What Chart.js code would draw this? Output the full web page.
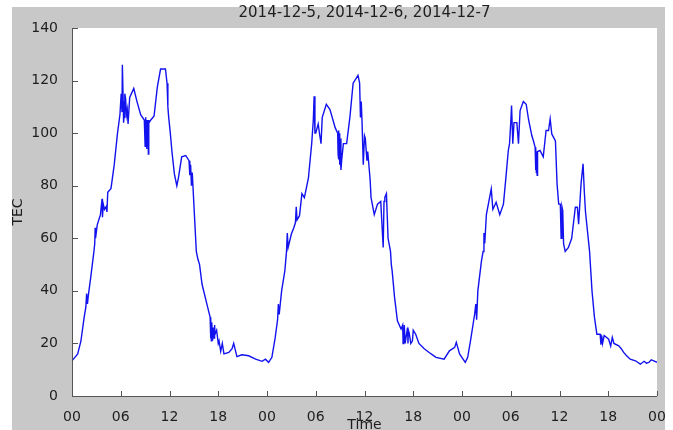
<!DOCTYPE html>
<html>
<head>
<meta charset="utf-8">
<title>TEC 2014-12-5 .. 2014-12-7</title>
<script src="https://cdn.jsdelivr.net/npm/chart.js@4.4.1/dist/chart.umd.min.js"></script>
<style>
  html, body { margin: 0; padding: 0; background: #fff; }
  #wrap { position: relative; width: 673px; height: 430px; }
</style>
</head>
<body>
<div id="wrap"><canvas id="chart-tec"></canvas></div>
<script>
// hours since 2014-12-5 00:00 and TEC (one line per stretch, same counts)
const hours = [
  0.0, 0.3, 0.7, 1.1, 1.5, 1.7, 1.8, 1.9, 2.0, 2.3, 2.7, 2.8, 2.85, 2.9, 3.1, 3.5, 3.7, 3.75, 3.85, 4.0, 4.2, 4.3, 4.4,
  4.8, 5.2, 5.6, 5.9, 6.05, 6.15, 6.2, 6.3, 6.35, 6.4, 6.5, 6.6, 6.7, 6.8, 6.9, 7.1, 7.6, 8.0, 8.45, 8.9,
  9.0, 9.05, 9.1, 9.15, 9.2, 9.25, 9.3, 9.35, 9.4, 9.45, 9.5, 9.7,
  10.1, 10.5, 10.9, 11.5, 11.7, 11.8, 11.9, 12.1, 12.3, 12.6, 12.9, 13.1, 13.5, 14.0, 14.4,
  14.5, 14.6, 14.7, 14.8, 15.0, 15.3, 15.5, 15.7, 16.0, 16.4, 16.8,
  17.0, 17.05, 17.1, 17.15, 17.2, 17.3, 17.4, 17.5, 17.55, 17.6, 17.8, 18.0, 18.1, 18.3, 18.5, 18.7,
  19.3, 19.7, 19.9, 20.3, 20.9, 21.75, 22.6, 23.4, 23.8, 24.2, 24.6, 25.0,
  25.3, 25.4, 25.5, 25.8, 26.2, 26.4, 26.5, 26.6, 27.0, 27.3, 27.5, 27.6, 27.7, 28.0, 28.3, 28.6, 29.1,
  29.5, 29.7, 29.8, 29.9, 30.0, 30.3, 30.5, 30.65, 30.8, 31.3, 31.75, 32.4,
  32.7, 32.75, 32.8, 32.85, 32.9, 32.95, 33.0, 33.1, 33.2,
  33.4, 33.8, 34.2, 34.6, 35.2, 35.4, 35.5, 35.6, 35.7, 35.85, 36.0, 36.1, 36.3, 36.4, 36.7, 36.8,
  37.2, 37.6, 38.0, 38.3, 38.4, 38.5, 38.7, 38.9, 39.2, 39.3, 39.4, 39.7, 40.05, 40.5,
  40.7, 40.75, 40.8, 40.85, 40.9, 41.0, 41.3, 41.35, 41.4, 41.5, 41.7, 41.9, 42.0, 42.3, 42.7,
  43.35, 44.2, 44.8, 45.8, 46.45, 47.1, 47.3, 47.7, 48.4, 48.7, 49.1,
  49.55, 49.7, 49.8, 49.95, 50.4, 50.6, 50.7, 50.8, 51.0, 51.4, 51.6, 51.8, 51.95, 52.2, 52.65, 53.1, 53.4, 53.7,
  53.85, 54.0, 54.1, 54.25, 54.4, 54.75, 54.95, 55.15, 55.55, 55.9, 56.2, 56.6, 56.8,
  57.0, 57.05, 57.1, 57.15, 57.2, 57.25, 57.3, 57.6, 58.0, 58.35, 58.65, 58.85, 59.05, 59.5,
  59.7, 59.9, 60.1, 60.2, 60.3, 60.4, 60.5, 60.7, 61.1, 61.5, 61.95, 62.2, 62.35, 62.65, 62.9, 63.05,
  63.2, 63.4, 63.7, 64.0, 64.3, 64.6, 65.0, 65.1, 65.2, 65.3, 65.5, 66.05, 66.3, 66.5, 66.7, 67.3,
  67.6, 67.9, 68.2, 68.7, 69.35, 69.95, 70.4, 70.7, 71.0, 71.3, 71.6, 72.0
]
const tec = [
  13.4, 14.5, 16, 21, 30, 33.7, 39, 35, 38, 45, 55, 58, 64, 60, 65, 69, 75, 68, 73, 71, 72, 70, 77.5,
  79, 88, 100, 107, 115, 108, 126, 112, 104, 106, 115, 113, 107, 109, 103.5, 113.6, 117, 112, 107, 105,
  95, 106, 96, 105, 94, 105, 97, 104, 92, 105, 104, 105,
  106.5, 117.5, 124.4, 124.4, 119, 110, 106, 100, 93, 84.5, 80, 83, 91, 91.5, 89.5,
  84, 88, 80, 85, 73, 55, 52, 50, 42.6, 37.5, 32.5,
  30, 22, 29, 21, 28, 21, 26, 22, 27, 23.5, 25, 20, 21, 17, 20, 16,
  16.6, 18, 20, 15, 15.7, 15.3, 14, 13.2, 14, 12.8, 14.7, 22,
  29, 35, 31, 40, 47.7, 55, 62, 56.5, 61.6, 64, 66, 72, 67, 68.6, 77, 75.5, 83,
  96, 105, 114, 100, 100, 103.5, 99, 96, 106, 111, 109, 102,
  100, 92, 101, 90, 100, 88, 98, 86, 90,
  96, 96, 106, 119, 122, 119, 106, 112, 104, 88, 99, 98, 89.5, 93, 82, 75.6,
  69, 73, 74, 56.5, 74, 75.6, 77, 60, 55, 50, 47.7, 37.5, 28.6, 25.5,
  27, 20, 26, 20, 27, 20, 26, 20, 25, 24, 20, 21, 25, 23.5, 20,
  18, 16, 14.7, 14, 17.2, 18.5, 20.4, 16, 12.8, 14.7, 22,
  31, 35, 29, 40, 51.5, 55, 62, 58, 69, 75.6, 78.8, 71, 72, 73.7, 69, 73, 83, 93.4,
  96, 104, 110.5, 96, 104, 104, 96, 108.6, 112, 111, 105, 99, 97,
  94.6, 86, 94, 85, 93, 84, 93, 93.4, 91, 101, 101, 105.4, 99.7, 97,
  80.7, 73, 73, 60, 72, 70.5, 58, 55, 56.5, 60, 71.8, 71.8, 65.4, 80.7, 88.3, 78,
  70, 64, 55, 40, 30, 23.5, 23.5, 19.5, 23, 20, 23, 21.6, 19, 22.3, 20, 19.1,
  18, 16.6, 15.5, 14, 13.4, 12.1, 13.2, 12.5, 12.8, 13.8, 13.4, 12.8
]
const timeLabels = ['00', '06', '12', '18', '00', '06', '12', '18', '00', '06', '12', '18', '00']
const titleText = '2014-12-5, 2014-12-6, 2014-12-7'

const tickFont = { family: 'DejaVu Sans', size: 14 }
const inkColor = '#1e1e1e'
const axisColor = '#555'

// gray figure behind a white plot box, like a matlab figure window
const figureBg = {
  id: 'figureBg',
  beforeDraw(chart) {
    const { ctx, chartArea: a } = chart
    ctx.save()
    ctx.fillStyle = '#fff'
    ctx.fillRect(0, 0, chart.width, chart.height)
    ctx.fillStyle = '#c8c8c8'
    ctx.fillRect(12, 7, 653, chart.height - 7)
    ctx.fillStyle = '#fff'
    ctx.fillRect(a.left, a.top, a.right - a.left, a.bottom - a.top)
    ctx.restore()
  }
}

// left/bottom axis lines with short ticks pointing into the plot
const insideTicks = {
  id: 'insideTicks',
  afterDatasetsDraw(chart) {
    const { ctx, chartArea: a, scales } = chart
    ctx.save()
    ctx.strokeStyle = axisColor
    ctx.lineWidth = 1
    ctx.beginPath()
    ctx.moveTo(a.left + 0.5, a.top)
    ctx.lineTo(a.left + 0.5, a.bottom + 0.5)
    ctx.lineTo(a.right, a.bottom + 0.5)
    scales.x.ticks.forEach(t => {
      const px = Math.round(scales.x.getPixelForValue(t.value)) + 0.5
      ctx.moveTo(px, a.bottom)
      ctx.lineTo(px, a.bottom - 5)
    })
    scales.y.ticks.forEach(t => {
      const py = Math.round(scales.y.getPixelForValue(t.value)) + 0.5
      ctx.moveTo(a.left, py)
      ctx.lineTo(a.left + 6, py)
    })
    ctx.stroke()
    ctx.restore()
  }
}

new Chart(document.getElementById('chart-tec'), {
  type: 'line',
  data: {
    datasets: [{
      label: 'TEC',
      data: hours.map((h, i) => ({ x: h, y: tec[i] })),
      borderColor: '#1212ee',
      borderWidth: 1.4,
      pointRadius: 0,
      tension: 0,
      fill: false
    }]
  },
  options: {
    responsive: true,
    maintainAspectRatio: false,
    animation: false,
    layout: { padding: { top: 0, right: 16, bottom: 0, left: 0 } },
    plugins: {
      legend: { display: false },
      tooltip: { enabled: false },
      title: {
        display: true,
        text: titleText,
        fullSize: false,
        color: inkColor,
        font: { family: 'DejaVu Sans', size: 15, weight: 'normal' },
        padding: { top: 4, bottom: 6 }
      }
    },
    scales: {
      x: {
        type: 'linear',
        min: 0,
        max: 72,
        grid: { display: false },
        border: { display: false },
        ticks: {
          stepSize: 6,
          autoSkip: false,
          maxRotation: 0,
          padding: 5,
          color: inkColor,
          font: tickFont,
          callback: (v, i) => timeLabels[i]
        },
        title: {
          display: true,
          text: 'Time',
          color: inkColor,
          font: tickFont,
          padding: { top: 0, bottom: -4 }
        },
        afterFit: scale => { scale.height = 34 }
      },
      y: {
        min: 0,
        max: 140,
        grid: { display: false },
        border: { display: false },
        ticks: {
          stepSize: 20,
          padding: 6,
          color: inkColor,
          font: tickFont
        },
        title: {
          display: true,
          text: 'TEC',
          color: inkColor,
          font: tickFont,
          padding: { top: 10, bottom: 0 }
        },
        afterFit: scale => { scale.width = 72 }
      }
    }
  },
  plugins: [figureBg, insideTicks]
})
</script>
</body>
</html>
